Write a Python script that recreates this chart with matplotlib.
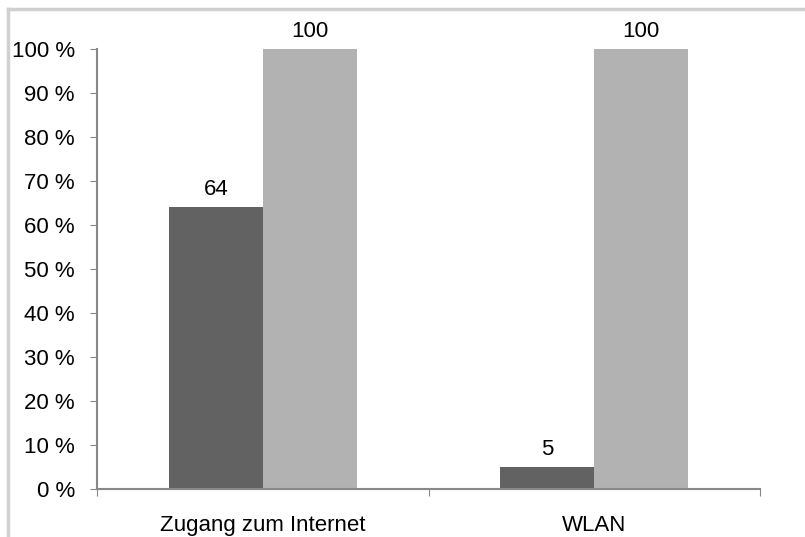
import matplotlib
matplotlib.use("Agg")
import matplotlib.pyplot as plt
from matplotlib.lines import Line2D
import numpy as np

plt.rcParams['font.family'] = ['Liberation Sans', 'DejaVu Sans']

categories = ["Zugang zum Internet", "WLAN"]
series_dark = [64, 5]
series_light = [100, 100]
yticks = [0, 10, 20, 30, 40, 50, 60, 70, 80, 90, 100]
ytick_labels = [f"{v} %" for v in yticks]

FS = 16

fig = plt.figure(figsize=(8.05, 5.37), dpi=100)
ax = fig.add_axes([97/805, 1-489/537, (760-97)/805, (489-49)/537])

x = np.arange(len(categories))
w = 0.283
b1 = ax.bar(x - w/2, series_dark, w, color="#626262", zorder=2)
b2 = ax.bar(x + w/2, series_light, w, color="#b2b2b2", zorder=2)

for bars, vals in ((b1, series_dark), (b2, series_light)):
    for r, v in zip(bars, vals):
        ax.annotate(str(v), (r.get_x() + r.get_width()/2, v), xytext=(0, 5),
                    textcoords="offset points", ha="center", va="bottom", fontsize=FS,
                    annotation_clip=False)

ax.set_xlim(-0.5, 1.5)
ax.set_ylim(0, 100)
ax.set_yticks(yticks)
ax.set_yticklabels(ytick_labels, fontsize=FS)
ax.set_xticks([-0.5, 0.5, 1.5])
ax.set_xticklabels([])
ax.set_xticks(x, minor=True)
ax.set_xticklabels(categories, minor=True, fontsize=FS)
ax.tick_params(axis="x", which="minor", length=0, pad=19)
ax.tick_params(axis="x", which="major", length=5, color="#888888", direction="out")
ax.tick_params(axis="y", length=5, color="#888888", direction="out", pad=11)

for s in ("top", "right"):
    ax.spines[s].set_visible(False)
for s in ("left", "bottom"):
    ax.spines[s].set_color("#888888")
    ax.spines[s].set_linewidth(1.5)

# outer chart-area border (visible top and left edges)
fig.add_artist(Line2D([8/805, 1.0], [1-9/537, 1-9/537], transform=fig.transFigure,
                      color="#d0d0d0", linewidth=2.5))
fig.add_artist(Line2D([8/805, 8/805], [0, 1-9/537], transform=fig.transFigure,
                      color="#d0d0d0", linewidth=2.5))

fig.savefig("out.png", dpi=100)
